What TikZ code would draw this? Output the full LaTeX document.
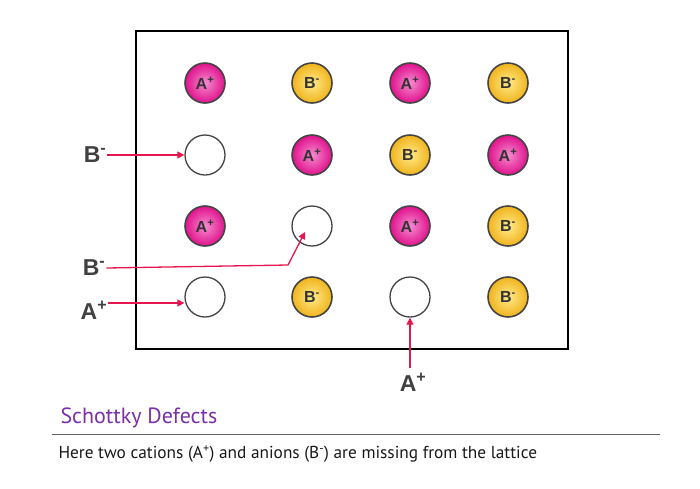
\documentclass[tikz,border=0pt]{standalone}
\usepackage{fontspec}
\setmainfont{Liberation Sans}
\newfontfamily\capfont{PT Sans}
\usetikzlibrary{arrows.meta}
\definecolor{pinkin}{HTML}{F58BD0}
\definecolor{pinkout}{HTML}{E0128C}
\definecolor{yelin}{HTML}{FFEA8A}
\definecolor{yelout}{HTML}{F0B41C}
\definecolor{arrowred}{HTML}{E8164F}
\definecolor{ringgray}{HTML}{444444}
\definecolor{titlepurple}{HTML}{7B2FA8}
\newcommand\plusup{\textsuperscript{+}}
\newcommand\minusup{\textsuperscript{-}}
\tikzset{
  ion/.style={circle, minimum size=40pt, inner sep=0pt, draw=ringgray, line width=1.6pt,
    font=\fontsize{16}{16}\selectfont\bfseries, text=black!80},
  cat/.style={ion, inner color=pinkin, outer color=pinkout},
  ani/.style={ion, inner color=yelin, outer color=yelout},
  hole/.style={circle, minimum size=40pt, inner sep=0pt, draw=ringgray, line width=1.3pt, fill=white},
  lab/.style={font=\fontsize{23}{23}\selectfont\bfseries, text=black!75},
  arr/.style={draw=arrowred, line width=1.3pt, -{Triangle[length=7pt,width=7pt]}},
}
\begin{document}
\begin{tikzpicture}[x=1pt,y=-1pt]
\useasboundingbox (0,0) rectangle (700,488);
\draw[line width=2pt] (136,31) rectangle (568,349);
% row 1
\node[cat] (a11) at (205,83) {A\plusup};
\node[ani] (a12) at (312,83) {B\minusup};
\node[cat] (a13) at (410,83) {A\plusup};
\node[ani] (a14) at (508,83) {B\minusup};
% row 2
\node[hole] (h21) at (205,155) {};
\node[cat] (a22) at (312,155) {A\plusup};
\node[ani] (a23) at (410,155) {B\minusup};
\node[cat] (a24) at (508,155) {A\plusup};
% row 3
\node[cat] (a31) at (205,226) {A\plusup};
\node[hole] (h32) at (312,226) {};
\node[cat] (a33) at (410,226) {A\plusup};
\node[ani] (a34) at (508,226) {B\minusup};
% row 4
\node[hole] (h41) at (205,297) {};
\node[ani] (a42) at (312,297) {B\minusup};
\node[hole] (h43) at (410,297) {};
\node[ani] (a44) at (508,297) {B\minusup};
% labels
\node[lab, inner sep=1pt] (l1) at (95,155) {B\minusup};
\node[lab, inner sep=1pt] (l2) at (94,268) {B\minusup};
\node[lab, inner sep=1pt] (l3) at (94,310) {A\plusup};
\node[lab] (l4) at (413,382) {A\plusup};
\coordinate (k2) at (288,265);
\draw[arr] (l1.east |- 0,155) -- (h21.west);
\draw[arr] (l2.east |- 0,268) -- (k2) -- (305,232);
\draw[arr] (l3.east |- 0,303) -- (h41.west |- 0,303);
\draw[arr] (410,368) -- (h43.south);
% caption
\node[anchor=west, font=\capfont\fontsize{22}{22}\selectfont, text=titlepurple] (title) at (57,418) {Schottky Defects};
\draw[draw=black!60, line width=0.8pt] (52,434) -- (660,434);
\node[anchor=west, font=\capfont\fontsize{17.3}{17.3}\selectfont, text=black!90] (desc) at (55,454) {Here two cations (A\plusup) and anions (B\minusup) are missing from the lattice};
\end{tikzpicture}
\end{document}
